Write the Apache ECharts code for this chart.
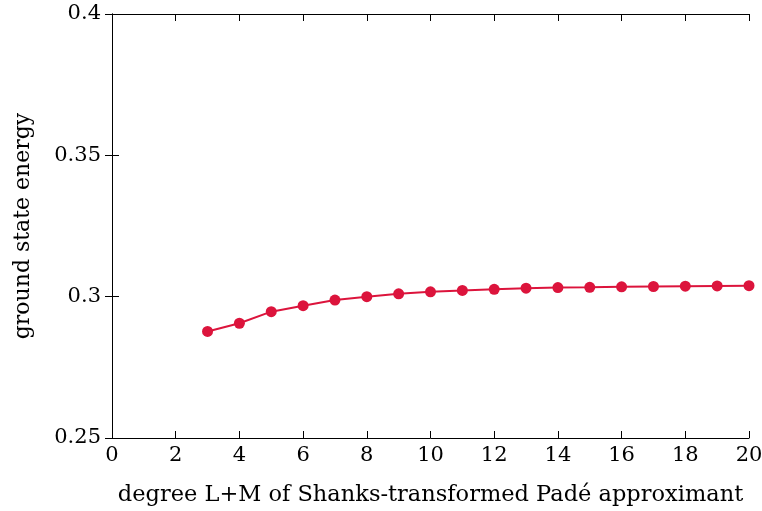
<!DOCTYPE html>
<html><head><meta charset="utf-8">
<script src="https://cdn.jsdelivr.net/npm/echarts@6/dist/echarts.min.js"></script>
<style>html,body{margin:0;padding:0;background:#fff}#c{width:762px;height:511px}</style>
</head><body><div id="c"></div>
<script>
const degrees = [3,4,5,6,7,8,9,10,11,12,13,14,15,16,17,18,19,20];
const energies = [0.2877,0.2906,0.2947,0.2968,0.2988,0.3000,0.3010,0.3017,0.3022,0.3026,0.3030,0.3032,0.3033,0.3035,0.3036,0.3037,0.3038,0.3039];
const xTitle = 'degree L+M of Shanks-transformed Padé approximant';
const yTitle = 'ground state energy';
const FONT = 'DejaVu Serif';
const chart = echarts.init(document.getElementById('c'), null, {renderer:'canvas'});
const lineStyle = {color:'#000', width:1};
const tick = {show:true, inside:true, length:7, lineStyle:{color:'#000', width:1}};
chart.setOption({
  animation:false,
  grid:{left:112, right:13, top:14, bottom:73, containLabel:false, outerBoundsMode:'none'},
  xAxis:[{
    type:'value', min:0, max:20, interval:2, position:'bottom',
    axisLine:{show:true, lineStyle}, axisTick:tick, splitLine:{show:false},
    axisLabel:{color:'#000', fontFamily:FONT, fontSize:21, margin:7},
    name:xTitle, nameLocation:'middle', nameGap:46,
    nameTextStyle:{color:'#000', fontFamily:FONT, fontSize:22.5}
  },{
    type:'value', min:0, max:20, interval:2, position:'top',
    axisLine:{show:true, lineStyle}, axisTick:tick, splitLine:{show:false},
    axisLabel:{show:false}
  }],
  yAxis:[{
    type:'value', min:0.25, max:0.4, interval:0.05, position:'left',
    axisLine:{show:true, lineStyle}, axisTick:tick, splitLine:{show:false},
    axisLabel:{color:'#000', fontFamily:FONT, fontSize:21, margin:11,
      formatter: v => String(+v.toFixed(2))},
    name:yTitle, nameLocation:'middle', nameGap:78, nameRotate:90,
    nameTextStyle:{color:'#000', fontFamily:FONT, fontSize:22}
  },{
    type:'value', min:0.25, max:0.4, interval:0.05, position:'right',
    axisLine:{show:true, lineStyle}, axisTick:tick, splitLine:{show:false},
    axisLabel:{show:false}
  }],
  series:[{
    type:'line', xAxisIndex:0, yAxisIndex:0,
    data: degrees.map((d,i)=>[d, energies[i]]),
    symbol:'circle', symbolSize:11, showSymbol:true,
    lineStyle:{color:'#DC143C', width:2},
    itemStyle:{color:'#DC143C'}
  }]
});
</script></body></html>
